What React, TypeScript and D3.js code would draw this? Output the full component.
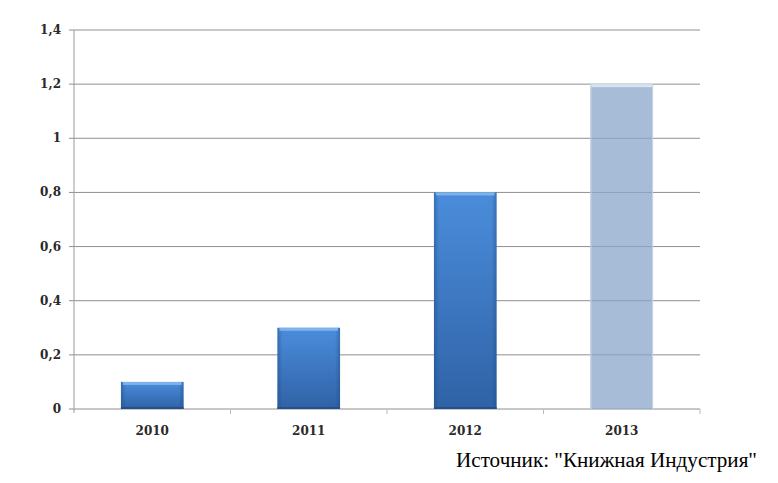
import React from "react";
import * as d3 from "d3";

const categories = ["2010", "2011", "2012", "2013"];
const values = [0.1, 0.3, 0.8, 1.2];
const forecast = [false, false, false, true];
const yTicks = [0, 0.2, 0.4, 0.6, 0.8, 1, 1.2, 1.4];
const sourceText = 'Источник: "Книжная Индустрия"';

export default function App() {
  const W = 778, H = 483;
  const left = 74, right = 700, top = 30, bottom = 409;
  const x = d3.scaleBand<string>().domain(categories).range([left, right]).paddingInner(0.6).paddingOuter(0.3);
  const band = d3.scaleBand<string>().domain(categories).range([left, right]);
  const y = d3.scaleLinear().domain([0, 1.4]).range([bottom, top]);
  const fmt = (v: number) => String(v).replace(".", ",");
  const bw = x.bandwidth();
  return (
    <svg width={W} height={H} style={{ position: "absolute", left: 0, top: 0, background: "#fff" }}>
      <defs>
        <linearGradient id="gBlue" x1="0" y1="0" x2="0" y2="1">
          <stop offset="0" stopColor="#4b8ddb" />
          <stop offset="1" stopColor="#2f62a6" />
        </linearGradient>
        <linearGradient id="gSide" x1="0" y1="0" x2="1" y2="0">
          <stop offset="0" stopColor="#1f4a85" stopOpacity="0.45" />
          <stop offset="0.08" stopColor="#1f4a85" stopOpacity="0" />
          <stop offset="0.92" stopColor="#1f4a85" stopOpacity="0" />
          <stop offset="1" stopColor="#1f4a85" stopOpacity="0.45" />
        </linearGradient>
      </defs>
      {yTicks.map((t) => (
        <g key={t}>
          <line x1={left - 5} x2={right} y1={y(t)} y2={y(t)} stroke="#8f8f8f" strokeWidth={1} />
          <text x={61} y={y(t) + 4} textAnchor="end" fontFamily="DejaVu Serif" fontSize={12} fontWeight="bold" fill="#2a2a2a">
            {fmt(t)}
          </text>
        </g>
      ))}
      <line x1={left} x2={left} y1={top} y2={bottom + 4} stroke="#9a9a9a" />
      {categories.map((c) => (
        <line key={"t" + c} x1={(band(c) as number) + band.bandwidth()} x2={(band(c) as number) + band.bandwidth()} y1={bottom} y2={bottom + 5} stroke="#bbb" />
      ))}
      {categories.map((c, i) => {
        const bx = x(c) as number;
        const by = y(values[i]);
        const bh = bottom - by;
        if (forecast[i]) {
          return (
            <g key={c}>
              <rect x={bx} y={by} width={bw} height={bh} fill="#8aa6c9" fillOpacity={0.75} />
              <rect x={bx} y={by} width={bw} height={3} fill="#d8e4f2" />
              <rect x={bx} y={by} width={1} height={bh} fill="#c8d4e4" />
              <rect x={bx + bw - 1} y={by} width={1} height={bh} fill="#c8d4e4" />
            </g>
          );
        }
        return (
          <g key={c}>
            <rect x={bx} y={by} width={bw} height={bh} fill="url(#gBlue)" />
            <rect x={bx} y={by} width={bw} height={bh} fill="url(#gSide)" />
            <rect x={bx + 2} y={by} width={bw - 4} height={3} fill="#7fb2ea" />
            <rect x={bx} y={bottom - 2} width={bw} height={2} fill="#244f8a" />
          </g>
        );
      })}
      {categories.map((c) => (
        <text key={"l" + c} x={(x(c) as number) + bw / 2} y={435} textAnchor="middle" fontFamily="DejaVu Serif" fontSize={12} fontWeight="bold" fill="#2a2a2a">
          {c}
        </text>
      ))}
      <text x={456} y={467} textLength={301} lengthAdjust="spacingAndGlyphs" fontFamily="Liberation Serif" fontSize={20} fill="#000">
        {sourceText}
      </text>
    </svg>
  );
}
